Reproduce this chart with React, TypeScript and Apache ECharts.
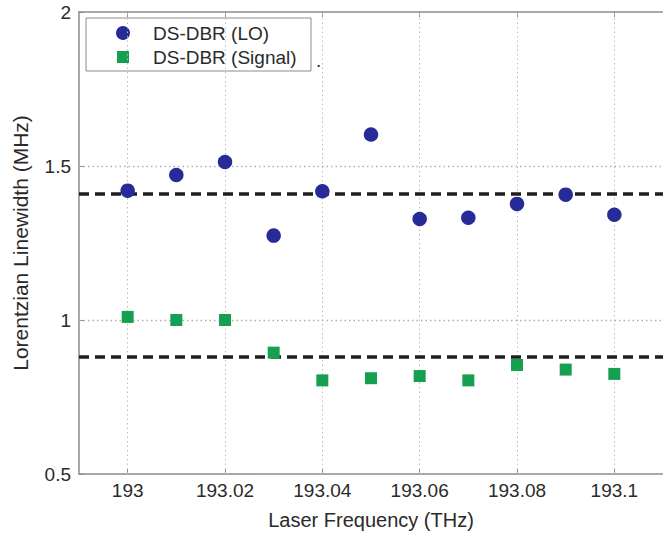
import React, { useEffect, useRef } from "react";
import * as echarts from "echarts";

const frequencies = [193.0, 193.01, 193.02, 193.03, 193.04, 193.05, 193.06, 193.07, 193.08, 193.09, 193.1];
const loLinewidth = [1.42, 1.471, 1.513, 1.274, 1.418, 1.602, 1.328, 1.332, 1.377, 1.407, 1.342];
const signalLinewidth = [1.01, 1.0, 1.0, 0.894, 0.804, 0.811, 0.818, 0.804, 0.854, 0.839, 0.825];
const loMean = 1.407;
const signalMean = 0.878;
const xTickLabels = ["193", "193.02", "193.04", "193.06", "193.08", "193.1"];
const yTickLabels = ["0.5", "1", "1.5", "2"];
const seriesNames = ["DS-DBR (LO)", "DS-DBR (Signal)"];

const FONT = "'Liberation Sans', Arial, sans-serif";
const TXT = "#2a2a2a";
const AXIS = "#8c8c8c";
const GRIDC = "#b0b0b0";
const BLUE = "#272b98";
const GREEN = "#14a04e";

export default function App() {
  const ref = useRef<HTMLDivElement>(null);
  useEffect(() => {
    if (!ref.current) return;
    const chart = echarts.init(ref.current, null, { renderer: "svg" });
    const xTickValues = xTickLabels.map(Number);
    const yTickValues = yTickLabels.map(Number);
    const xFmt = (v: number) => {
      const hit = xTickLabels.find((l) => Math.abs(Number(l) - v) < 1e-6);
      return hit ?? "";
    };
    const yFmt = (v: number) => {
      const hit = yTickLabels.find((l) => Math.abs(Number(l) - v) < 1e-6);
      return hit ?? "";
    };
    const commonX = {
      type: "value" as const,
      min: 192.99,
      max: 193.11,
      axisLine: { show: true, lineStyle: { color: AXIS, width: 1.5 } },
      splitLine: { show: false },
    };
    const dashed = { color: "#1e1e1e", width: 3.5, type: [10, 6] };
    chart.setOption({
      animation: false,
      textStyle: { fontFamily: FONT },
      grid: { left: 79, right: -8, top: 12, bottom: 60, containLabel: false },
      graphic: [
        {
          type: "group",
          z: 100,
          children: [
            { type: "rect", shape: { x: 86, y: 18, width: 225, height: 53 }, style: { fill: "#fff", stroke: AXIS, lineWidth: 1 } },
            { type: "circle", shape: { cx: 123, cy: 33, r: 7 }, style: { fill: BLUE } },
            { type: "rect", shape: { x: 117, y: 51, width: 12, height: 12 }, style: { fill: GREEN } },
            { type: "text", x: 153, y: 33, style: { text: seriesNames[0], fontSize: 19, fill: TXT, fontFamily: FONT, verticalAlign: "middle" } },
            { type: "text", x: 153, y: 57, style: { text: seriesNames[1], fontSize: 19, fill: TXT, fontFamily: FONT, verticalAlign: "middle" } },
            { type: "text", x: 316, y: 60, style: { text: ".", fontSize: 19, fill: TXT, fontFamily: FONT, verticalAlign: "middle" } },
          ],
        },
      ],
      xAxis: [
        {
          ...commonX,
          position: "bottom",
          name: "Laser Frequency (THz)",
          nameLocation: "middle",
          nameGap: 36,
          nameTextStyle: { fontSize: 20, color: TXT, fontFamily: FONT },
          axisTick: { show: true, inside: true, length: 5, lineStyle: { color: AXIS }, customValues: xTickValues },
          axisLabel: { show: true, margin: 7, fontSize: 19, color: TXT, fontFamily: FONT, customValues: xTickValues, formatter: xFmt },
        },
        {
          ...commonX,
          position: "top",
          axisTick: { show: true, inside: true, length: 5, lineStyle: { color: AXIS }, customValues: xTickValues },
          axisLabel: { show: false },
        },
      ],
      yAxis: {
        type: "value",
        min: 0.5,
        max: 2,
        interval: 0.5,
        name: "Lorentzian Linewidth (MHz)",
        nameLocation: "middle",
        nameGap: 48,
        nameTextStyle: { fontSize: 21, color: TXT, fontFamily: FONT },
        axisLine: { show: true, lineStyle: { color: AXIS, width: 1.5 } },
        axisTick: { show: true, inside: true, length: 5, lineStyle: { color: AXIS } },
        axisLabel: { margin: 8, fontSize: 19, color: TXT, fontFamily: FONT, formatter: yFmt },
        splitLine: { show: false },
      },
      series: [
        {
          name: "vgrid",
          type: "scatter",
          data: [],
          silent: true,
          markLine: {
            silent: true,
            symbol: "none",
            label: { show: false },
            lineStyle: { color: "#bdbdbd", width: 1, type: [1.5, 3] },
            data: xTickValues.map((v) => ({ xAxis: v })),
          },
          z: 1,
        },
        {
          name: "hgrid",
          type: "scatter",
          data: [],
          silent: true,
          markLine: {
            silent: true,
            symbol: "none",
            label: { show: false },
            lineStyle: { color: GRIDC, width: 1.3, type: [1.5, 3] },
            data: yTickValues.slice(1, -1).map((v) => ({ yAxis: v })),
          },
          z: 1,
        },
        {
          name: seriesNames[0],
          type: "scatter",
          symbol: "circle",
          symbolSize: 14.5,
          itemStyle: { color: BLUE, opacity: 1 },
          data: frequencies.map((f, i) => [f, loLinewidth[i]]),
          z: 5,
          markLine: {
            silent: true,
            symbol: "none",
            label: { show: false },
            lineStyle: dashed,
            data: [{ yAxis: loMean }],
          },
        },
        {
          name: seriesNames[1],
          type: "scatter",
          symbol: "rect",
          symbolSize: 12,
          itemStyle: { color: GREEN, opacity: 1 },
          data: frequencies.map((f, i) => [f, signalLinewidth[i]]),
          z: 5,
          markLine: {
            silent: true,
            symbol: "none",
            label: { show: false },
            lineStyle: dashed,
            data: [{ yAxis: signalMean }],
          },
        },
      ],
    });
    return () => chart.dispose();
  }, []);
  return (
    <div
      ref={ref}
      style={{ position: "fixed", left: 0, top: 0, width: 663, height: 535, background: "#fff" }}
    />
  );
}
